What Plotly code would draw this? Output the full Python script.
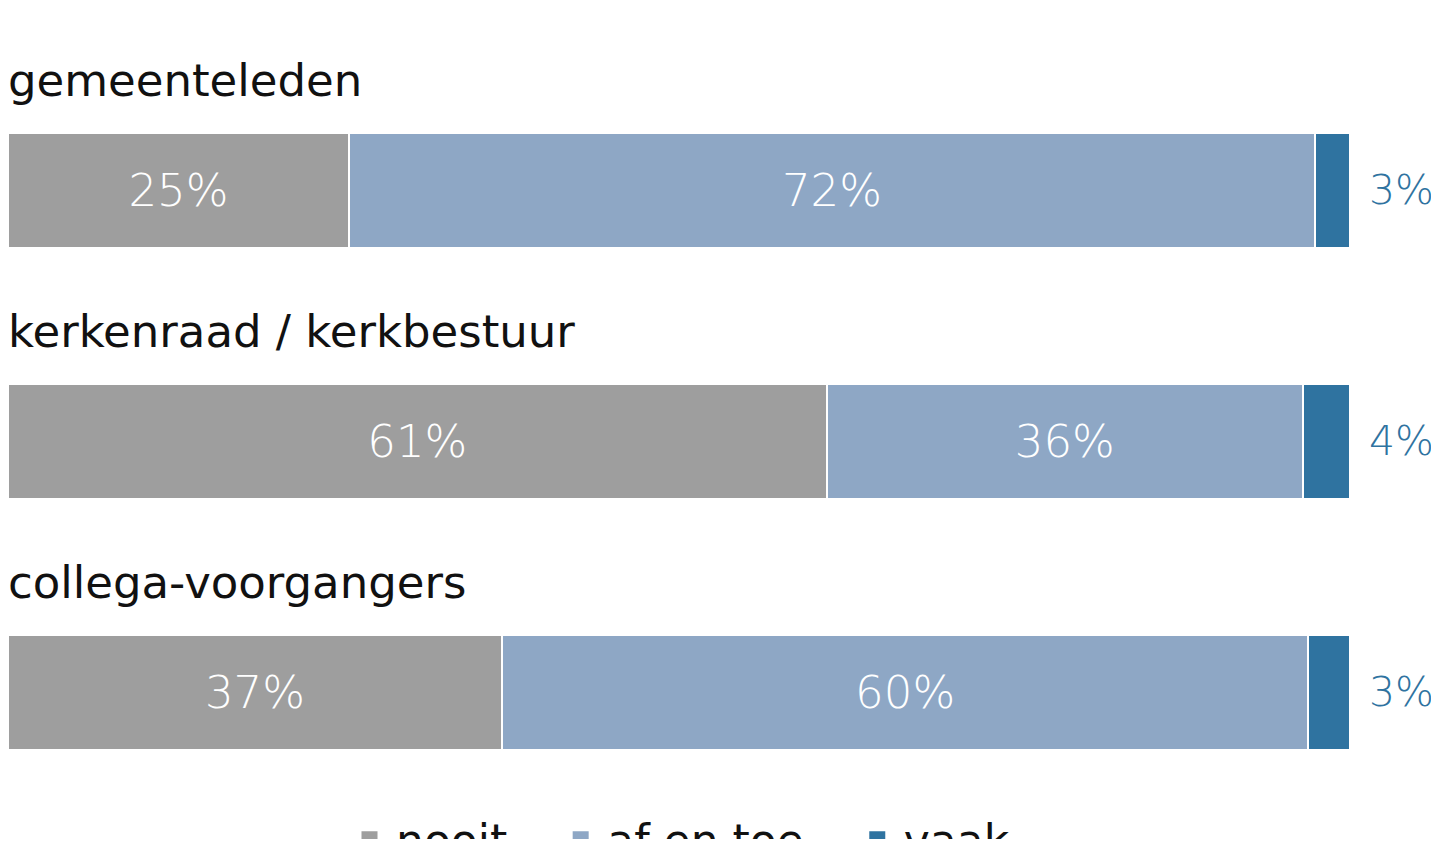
import plotly.graph_objects as go

categories = ["gemeenteleden", "kerkenraad / kerkbestuur", "collega-voorgangers"]
series_names = ["nooit", "af en toe", "vaak"]
nooit = [25.4, 61.0, 36.8]
af_en_toe = [72.0, 35.5, 60.1]
vaak = [2.6, 3.5, 3.1]
nooit_labels = ["25%", "61%", "37%"]
af_en_toe_labels = ["72%", "36%", "60%"]
vaak_labels = ["3%", "4%", "3%"]

colors = ["#9e9e9e", "#8ea7c5", "#2f73a0"]
FONT = "DejaVu Sans"
NB = "\u00a0"
legend_names = [series_names[0] + NB * 3, series_names[1] + NB * 3, series_names[2]]

fig = go.Figure()
for name, lname, vals, labels, col in zip(series_names, legend_names, [nooit, af_en_toe, vaak],
                                          [nooit_labels, af_en_toe_labels, [""] * 3], colors):
    fig.add_trace(go.Bar(
        y=categories, x=vals, name=name, orientation="h",
        marker=dict(color=col, line=dict(color="white", width=2)),
        text=labels, textposition="inside", insidetextanchor="middle",
        textangle=0, textfont=dict(family=FONT, size=45, color="white", weight=300),
        width=0.46, showlegend=False, hoverinfo="skip",
    ))
    fig.add_trace(go.Scatter(
        x=[None], y=[None], mode="markers", name=lname,
        marker=dict(symbol="square", size=22, color=col), showlegend=True,
    ))

annotations = []
totals = [a + b + c for a, b, c in zip(nooit, af_en_toe, vaak)]
for cat, tot, lab in zip(categories, totals, vaak_labels):
    annotations.append(dict(x=tot, y=cat, xref="x", yref="y", text=lab, showarrow=False,
                            xanchor="left", yanchor="middle", xshift=17, yshift=0,
                            font=dict(family=FONT, size=41, color="#2f73a0", weight=300)))
    annotations.append(dict(x=0, y=cat, xref="x", yref="y", text=cat, showarrow=False,
                            xanchor="left", yanchor="middle", xshift=-2, yshift=110,
                            font=dict(family=FONT, size=45, color="#111111")))

fig.update_layout(
    width=1431, height=831,
    barmode="stack",
    margin=dict(l=0, r=89, t=0, b=79, autoexpand=False),
    plot_bgcolor="white", paper_bgcolor="white",
    xaxis=dict(range=[0, 100], visible=False, fixedrange=True),
    yaxis=dict(range=[2.269, -0.727], visible=False, fixedrange=True),
    annotations=annotations,
    showlegend=True,
    legend=dict(orientation="h", x=0.5, xanchor="center", y=-0.106, yanchor="middle",
                font=dict(family=FONT, size=44, color="#111111"), itemsizing="trace",
                traceorder="normal", itemwidth=43),
)

fig.write_html("out.html")
